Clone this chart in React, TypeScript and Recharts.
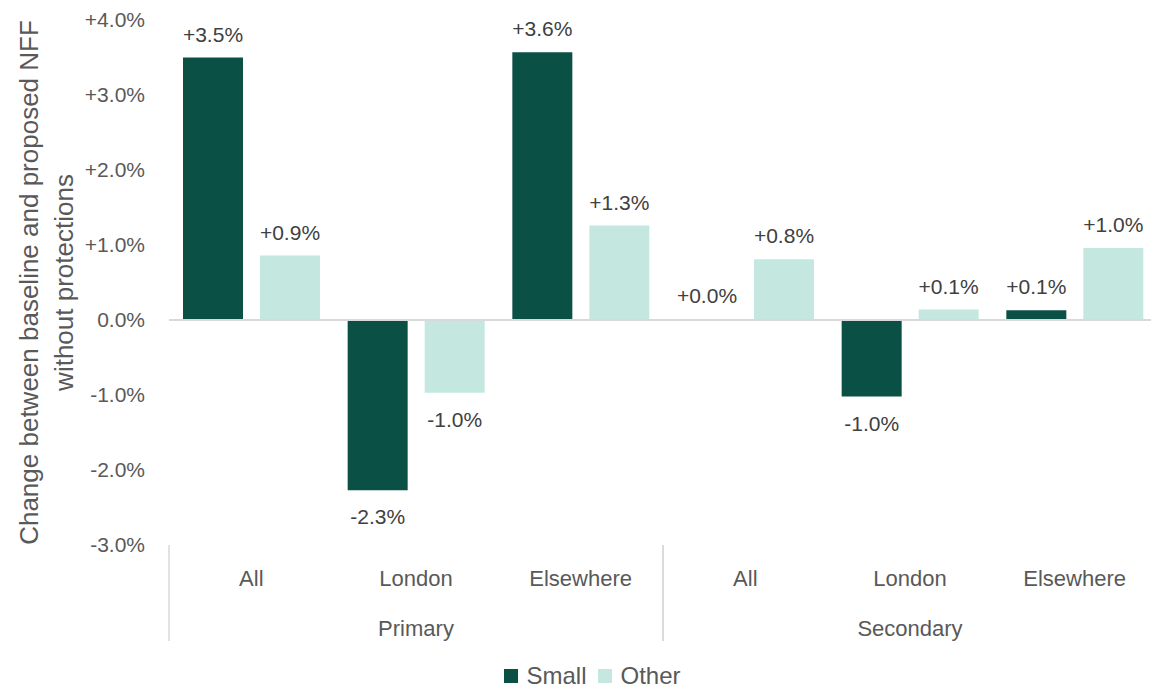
import { BarChart, Bar, XAxis, YAxis, ReferenceLine, LabelList, Legend, Label } from "recharts";

// Chart values
const subCategories = ["All", "London", "Elsewhere", "All", "London", "Elsewhere"];
const phases = ["Primary", "Primary", "Primary", "Secondary", "Secondary", "Secondary"];
const smallValues = [3.5, -2.27, 3.57, 0.01, -1.02, 0.13];
const otherValues = [0.86, -0.97, 1.26, 0.81, 0.14, 0.96];
const yTicks = [-3, -2, -1, 0, 1, 2, 3, 4];
const seriesNames = ["Small", "Other"];

const DARK = "#0b5045";
const LIGHT = "#c4e7e0";
const FONT = "'Liberation Sans', Arial, sans-serif";

const data = subCategories.map((sub, i) => ({
  key: `${phases[i]}-${sub}`,
  sub,
  phase: phases[i],
  small: smallValues[i],
  other: otherValues[i],
}));

const fmt = (v: number) => `${v >= 0 ? "+" : ""}${v.toFixed(1)}%`;

function ValueLabel(props: any) {
  const { x, y, width, height, value } = props;
  const top = Math.min(y, y + height);
  const bottom = Math.max(y, y + height);
  const ty = value >= 0 ? top - 16 : bottom + 34;
  return (
    <text x={x + width / 2} y={ty} textAnchor="middle" fill="#404040" fontSize={21} fontFamily={FONT}>
      {fmt(value)}
    </text>
  );
}

function CategoryTick(props: any) {
  const { x, y, payload, index } = props;
  const row = data[index];
  const half = payload.offset || 0;
  const first = data.findIndex((d) => d.phase === row.phase);
  const count = data.filter((d) => d.phase === row.phase).length;
  const isFirst = index === first;
  const isLast = index === first + count - 1;
  const groupCenter = x + (first + count / 2 - index - 0.5) * 2 * half;
  return (
    <g>
      <text x={x} y={y + 41} textAnchor="middle" fill="#595959" fontSize={22} fontFamily={FONT}>
        {row.sub}
      </text>
      {isFirst && (
        <>
          <line x1={x - half} x2={x - half} y1={y} y2={y + 96} stroke="#d9d9d9" strokeWidth={1.5} />
          <text x={groupCenter} y={y + 91} textAnchor="middle" fill="#595959" fontSize={22} fontFamily={FONT}>
            {row.phase}
          </text>
        </>
      )}
      {isLast && <line x1={x + half} x2={x + half} y1={y} y2={y + 96} stroke="#d9d9d9" strokeWidth={1.5} />}
    </g>
  );
}

function YTitle(props: any) {
  const { viewBox } = props;
  const cy = viewBox.y + viewBox.height / 2;
  return (
    <g>
      <text x={38} y={cy} transform={`rotate(-90, 38, ${cy})`} textAnchor="middle" fill="#595959" fontSize={26} fontFamily={FONT}>
        Change between baseline and proposed NFF
      </text>
      <text x={73} y={cy} transform={`rotate(-90, 73, ${cy})`} textAnchor="middle" fill="#595959" fontSize={26} fontFamily={FONT}>
        without protections
      </text>
    </g>
  );
}

function LegendBox() {
  const colors = [DARK, LIGHT];
  return (
    <div style={{ height: 48, display: "flex", justifyContent: "center", alignItems: "center", paddingTop: 14, paddingLeft: 40, boxSizing: "border-box", fontFamily: FONT }}>
      {seriesNames.map((name, i) => (
        <span key={name} style={{ display: "flex", alignItems: "center", marginRight: 12 }}>
          <span style={{ width: 14, height: 14, background: colors[i], marginRight: 8, display: "inline-block" }} />
          <span style={{ fontSize: 24, color: "#595959" }}>{name}</span>
        </span>
      ))}
    </div>
  );
}

export default function App() {
  return (
    <div style={{ position: "absolute", left: 0, top: 0, width: 1151, height: 693, overflow: "hidden", background: "#fff" }}>
      <BarChart
        width={1165}
        height={693}
        data={data}
        margin={{ top: 20, right: 8, bottom: 0, left: 0 }}
        barSize={60}
        barGap={17}
        style={{ fontFamily: FONT }}
      >
        <XAxis
          dataKey="key"
          height={100}
          axisLine={false}
          tickLine={false}
          tickSize={0}
          tickMargin={0}
          interval={0}
          tick={<CategoryTick />}
        />
        <YAxis
          width={169}
          domain={[-3, 4]}
          ticks={yTicks}
          axisLine={false}
          tickLine={false}
          tickMargin={18}
          tickFormatter={(v: number) => `${v > 0 ? "+" : ""}${v.toFixed(1)}%`}
          tick={{ fill: "#595959", fontSize: 21, fontFamily: FONT }}
        >
          <Label content={<YTitle />} />
        </YAxis>
        <Legend verticalAlign="bottom" content={<LegendBox />} />
        <Bar dataKey="small" name="Small" fill={DARK} isAnimationActive={false}>
          <LabelList dataKey="small" content={<ValueLabel />} />
        </Bar>
        <Bar dataKey="other" name="Other" fill={LIGHT} isAnimationActive={false}>
          <LabelList dataKey="other" content={<ValueLabel />} />
        </Bar>
        <ReferenceLine y={0} stroke="#d9d9d9" strokeWidth={2} ifOverflow="visible" />
      </BarChart>
    </div>
  );
}
